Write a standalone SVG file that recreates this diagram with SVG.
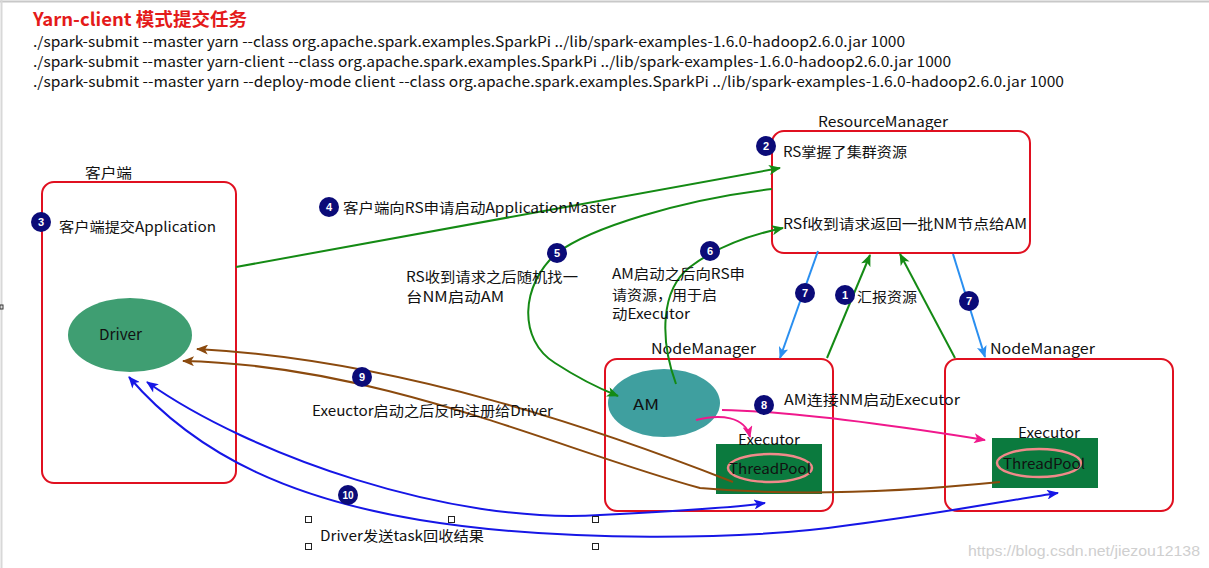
<svg xmlns="http://www.w3.org/2000/svg" width="1209" height="568" viewBox="0 0 1209 568">
<style>
text{font-family:"Noto Sans CJK SC","Liberation Sans",sans-serif;fill:#111;font-size:14px}
.title{fill:#e41a1a;font-weight:bold;font-size:18px}
.cmd{font-size:14.5px}
.box{fill:#fff;stroke:#e01020;stroke-width:2}
.badge circle{fill:#0b0b78}
.badge text{fill:#fff;font-size:11px;font-weight:bold;text-anchor:middle;font-family:"Liberation Sans",sans-serif}
.c{fill:none;stroke-width:2}
.g{stroke:#148a14}.b7{stroke:#2a8ff0}.pk{stroke:#f0188c}.br{stroke:#8b4a0e}.bl{stroke:#1616e6}
.wm{fill:#cfcfcf;font-size:14px;font-family:"Liberation Sans",sans-serif}
.h{fill:#fff;stroke:#222;stroke-width:1}
</style>
<defs>
<marker id="mg" viewBox="0 0 12 10" refX="11" refY="5" markerWidth="13" markerHeight="10" markerUnits="userSpaceOnUse" orient="auto-start-reverse"><path d="M0,0 L12,5 L0,10 L3,5 z" fill="#148a14"/></marker>
<marker id="mb7" viewBox="0 0 12 10" refX="11" refY="5" markerWidth="13" markerHeight="10" markerUnits="userSpaceOnUse" orient="auto-start-reverse"><path d="M0,0 L12,5 L0,10 L3,5 z" fill="#2a8ff0"/></marker>
<marker id="mpk" viewBox="0 0 12 10" refX="11" refY="5" markerWidth="13" markerHeight="10" markerUnits="userSpaceOnUse" orient="auto-start-reverse"><path d="M0,0 L12,5 L0,10 L3,5 z" fill="#f0188c"/></marker>
<marker id="mbr" viewBox="0 0 12 10" refX="11" refY="5" markerWidth="13" markerHeight="10" markerUnits="userSpaceOnUse" orient="auto-start-reverse"><path d="M0,0 L12,5 L0,10 L3,5 z" fill="#8b4a0e"/></marker>
<marker id="mbl" viewBox="0 0 12 10" refX="11" refY="5" markerWidth="13" markerHeight="10" markerUnits="userSpaceOnUse" orient="auto-start-reverse"><path d="M0,0 L12,5 L0,10 L3,5 z" fill="#1616e6"/></marker>
</defs>
<rect x="0" y="0" width="1209" height="568" fill="#fff"/>
<line x1="0" y1="1.5" x2="1209" y2="1.5" stroke="#c8c8c8" stroke-width="2"/>
<line x1="1.5" y1="0" x2="1.5" y2="568" stroke="#d8d8d8" stroke-width="2"/>
<rect x="0" y="305" width="3" height="4" fill="none" stroke="#333" stroke-width="1"/>

<g id="header">
<text class="title" x="33" y="26" textLength="214" lengthAdjust="spacingAndGlyphs">Yarn-client 模式提交任务</text>
<text class="cmd" x="33" y="47" textLength="872" lengthAdjust="spacingAndGlyphs">./spark-submit --master yarn --class org.apache.spark.examples.SparkPi ../lib/spark-examples-1.6.0-hadoop2.6.0.jar 1000</text>
<text class="cmd" x="33" y="67" textLength="918" lengthAdjust="spacingAndGlyphs">./spark-submit --master yarn-client --class org.apache.spark.examples.SparkPi ../lib/spark-examples-1.6.0-hadoop2.6.0.jar 1000</text>
<text class="cmd" x="33" y="87" textLength="1031" lengthAdjust="spacingAndGlyphs">./spark-submit --master yarn --deploy-mode client --class org.apache.spark.examples.SparkPi ../lib/spark-examples-1.6.0-hadoop2.6.0.jar 1000</text>
</g>

<g id="client">
<text x="85" y="178" textLength="47" lengthAdjust="spacingAndGlyphs">客户端</text>
<rect class="box" x="42" y="182" width="194" height="301" rx="12"/>
<text x="59" y="232" textLength="157" lengthAdjust="spacingAndGlyphs">客户端提交Application</text>
</g>
<g id="driver">
<ellipse cx="130" cy="335" rx="62" ry="37" fill="#3f9e72"/>
<text x="99" y="340" textLength="43" lengthAdjust="spacingAndGlyphs" style="font-size:15px">Driver</text>
</g>

<g id="resourcemanager">
<text x="818" y="127" textLength="130" lengthAdjust="spacingAndGlyphs">ResourceManager</text>
<rect class="box" x="772" y="131" width="258" height="122" rx="12"/>
<text x="783" y="157" textLength="124" lengthAdjust="spacingAndGlyphs">RS掌握了集群资源</text>
<text x="783" y="229" textLength="244" lengthAdjust="spacingAndGlyphs">RSf收到请求返回一批NM节点给AM</text>
</g>

<g id="nodemanager1">
<text x="651" y="354" textLength="105" lengthAdjust="spacingAndGlyphs">NodeManager</text>
<rect class="box" x="605" y="359" width="228" height="152" rx="12"/>
</g>
<g id="am">
<ellipse cx="664" cy="403" rx="56" ry="34" fill="#3f9f9f"/>
<text x="633" y="410" textLength="26" lengthAdjust="spacingAndGlyphs" style="font-size:15px">AM</text>
</g>
<g id="executor1">
<rect x="716" y="444" width="106" height="50" fill="#0b7a3e"/>
<text x="738" y="445" textLength="62" lengthAdjust="spacingAndGlyphs">Executor</text>
<ellipse cx="770" cy="468" rx="42" ry="14" fill="none" stroke="#f08a8a" stroke-width="2.5"/>
<text x="729" y="474" textLength="82" lengthAdjust="spacingAndGlyphs">ThreadPool</text>
</g>

<g id="nodemanager2">
<text x="990" y="354" textLength="105" lengthAdjust="spacingAndGlyphs">NodeManager</text>
<rect class="box" x="945" y="359" width="228" height="152" rx="12"/>
</g>
<g id="executor2">
<rect x="992" y="438" width="106" height="50" fill="#0b7a3e"/>
<text x="1018" y="438" textLength="62" lengthAdjust="spacingAndGlyphs">Executor</text>
<ellipse cx="1039" cy="463" rx="42" ry="14" fill="none" stroke="#f08a8a" stroke-width="2.5"/>
<text x="1003" y="469" textLength="82" lengthAdjust="spacingAndGlyphs">ThreadPool</text>
</g>

<g id="connectors">
<path class="c g" d="M236,267 L780,168" marker-end="url(#mg)"/>
<path class="c g" d="M772,189 C 680,200 590,228 557,253 C 520,285 518,340 555,363 C 578,378 598,388 618,396" marker-end="url(#mg)"/>
<path class="c g" d="M676,384 C 660,340 660,290 690,267 C 715,248 745,236 783,228" marker-end="url(#mg)"/>
<path class="c b7" d="M818,251 L780,358" marker-end="url(#mb7)"/>
<path class="c g" d="M827,358 L870,255" marker-end="url(#mg)"/>
<path class="c g" d="M955,358 L900,254" marker-end="url(#mg)"/>
<path class="c b7" d="M953,254 L985,357" marker-end="url(#mb7)"/>
<path class="c pk" d="M722,410 C 780,411 860,420 985,440" marker-end="url(#mpk)"/>
<path class="c pk" d="M696,420 C 720,414 745,416 750,437" marker-end="url(#mpk)"/>
<path class="c br" d="M733,482 C 600,430 400,360 197,349" marker-end="url(#mbr)"/>
<path class="c br" d="M1000,482 C 900,492 800,497 700,488 C 560,450 380,365 183,361" marker-end="url(#mbr)"/>
<path class="c bl" d="M147,382 C 250,455 450,525 600,515 C 680,511 730,508 765,503" marker-start="url(#mbl)" marker-end="url(#mbl)"/>
<path class="c bl" d="M129,377 C 200,460 300,500 420,520 C 560,543 750,540 850,525 C 950,512 1010,500 1058,493" marker-start="url(#mbl)" marker-end="url(#mbl)"/>
</g>

<g id="labels">
<text x="343" y="213" textLength="273" lengthAdjust="spacingAndGlyphs">客户端向RS申请启动ApplicationMaster</text>
<text x="406" y="282" textLength="172" lengthAdjust="spacingAndGlyphs">RS收到请求之后随机找一</text>
<text x="406" y="302" textLength="98" lengthAdjust="spacingAndGlyphs">台NM启动AM</text>
<text x="612" y="279" textLength="133" lengthAdjust="spacingAndGlyphs">AM启动之后向RS申</text>
<text x="612" y="300" textLength="105" lengthAdjust="spacingAndGlyphs">请资源，用于启</text>
<text x="612" y="319" textLength="78" lengthAdjust="spacingAndGlyphs">动Executor</text>
<text x="857" y="302" textLength="60" lengthAdjust="spacingAndGlyphs">汇报资源</text>
<text x="784" y="405" textLength="176" lengthAdjust="spacingAndGlyphs">AM连接NM启动Executor</text>
<text x="312" y="416" textLength="241" lengthAdjust="spacingAndGlyphs">Exeuctor启动之后反向注册给Driver</text>
<text x="320" y="541" textLength="164" lengthAdjust="spacingAndGlyphs">Driver发送task回收结果</text>
</g>

<g id="badges">
<g class="badge"><circle cx="766" cy="146" r="10"/><text x="766" y="150">2</text></g>
<g class="badge"><circle cx="41" cy="222" r="10"/><text x="41" y="226">3</text></g>
<g class="badge"><circle cx="329" cy="207" r="10"/><text x="329" y="211">4</text></g>
<g class="badge"><circle cx="557" cy="253" r="10"/><text x="557" y="257">5</text></g>
<g class="badge"><circle cx="710" cy="251" r="10"/><text x="710" y="255">6</text></g>
<g class="badge"><circle cx="805" cy="293" r="10"/><text x="805" y="297">7</text></g>
<g class="badge"><circle cx="845" cy="295" r="10"/><text x="845" y="299">1</text></g>
<g class="badge"><circle cx="969" cy="301" r="10"/><text x="969" y="305">7</text></g>
<g class="badge"><circle cx="764" cy="405" r="10"/><text x="764" y="409">8</text></g>
<g class="badge"><circle cx="362" cy="377" r="10"/><text x="362" y="381">9</text></g>
<g class="badge"><circle cx="348" cy="495" r="10"/><text x="348" y="499" style="font-size:10px">10</text></g>
</g>

<g id="handles">
<rect class="h" x="305.5" y="516.5" width="6" height="6"/>
<rect class="h" x="448.5" y="516.5" width="6" height="6"/>
<rect class="h" x="592.5" y="516.5" width="6" height="6"/>
<rect class="h" x="305.5" y="543.5" width="6" height="6"/>
<rect class="h" x="592.5" y="543.5" width="6" height="6"/>
</g>

<text class="wm" x="968" y="556" textLength="232" lengthAdjust="spacingAndGlyphs">https://blog.csdn.net/jiezou12138</text>
</svg>
